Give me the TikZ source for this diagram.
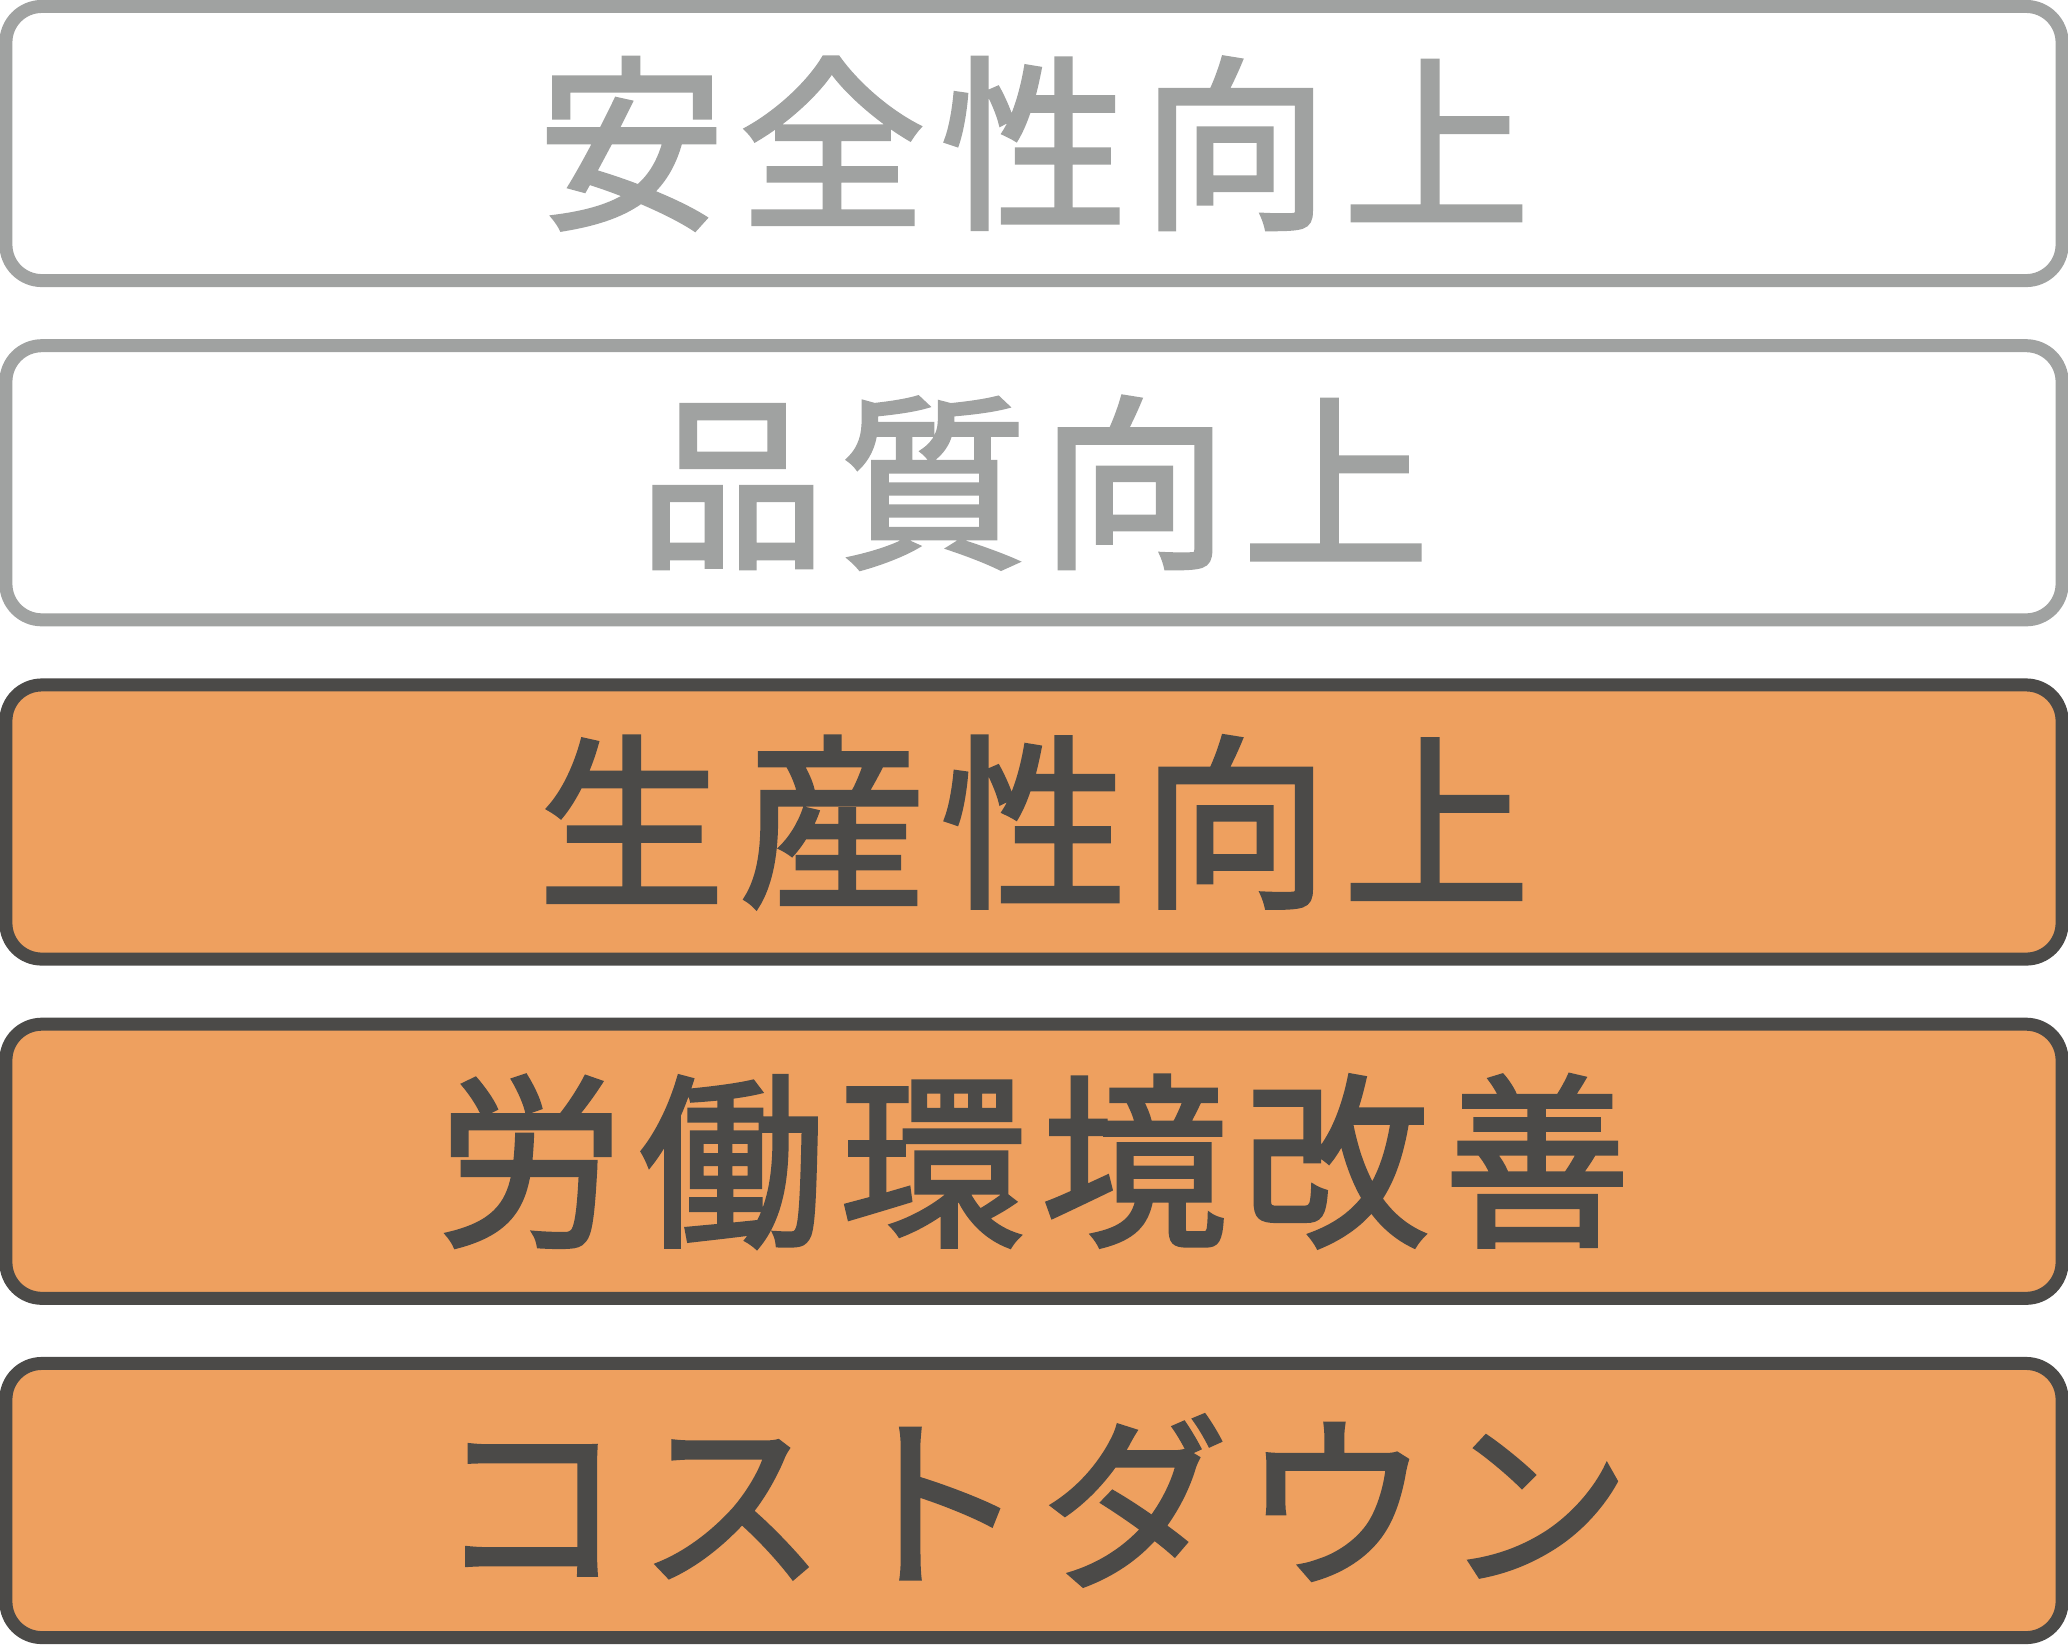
\documentclass[tikz,border=0pt]{standalone}
\usepackage{fontspec}
\newfontfamily\jpfont{Noto Sans CJK JP}[FakeBold=2.2, LetterSpace=8]
\usepackage{tikz}

\definecolor{lightgray}{HTML}{A0A2A1}
\definecolor{darkgray}{HTML}{4B4A48}
\definecolor{lightorange}{HTML}{EEA05F}

\tikzset{
  goalbox/.style={draw, line width=0.13cm, rounded corners=0.36cm,
    minimum width=20.55cm, minimum height=2.74cm, inner sep=0pt,
    font=\jpfont\fontsize{53}{58}\selectfont},
  dimbox/.style={goalbox, draw=lightgray, fill=white, text=lightgray},
  litbox/.style={goalbox, draw=darkgray, fill=lightorange, text=darkgray}
}

\begin{document}
\begin{tikzpicture}[x=0.01cm,y=-0.01cm]
\useasboundingbox (0,0) rectangle (2068,1644);
\node[dimbox] (safety) at (1034,143.5) {安全性向上};
\node[dimbox] (quality) at (1034,482.75) {品質向上};
\node[litbox] (output) at (1034,822) {生産性向上};
\node[litbox] (labour) at (1034,1161.25) {労働環境改善};
\node[litbox] (cost) at (1034,1500.5) {コストダウン};
\end{tikzpicture}
\end{document}
